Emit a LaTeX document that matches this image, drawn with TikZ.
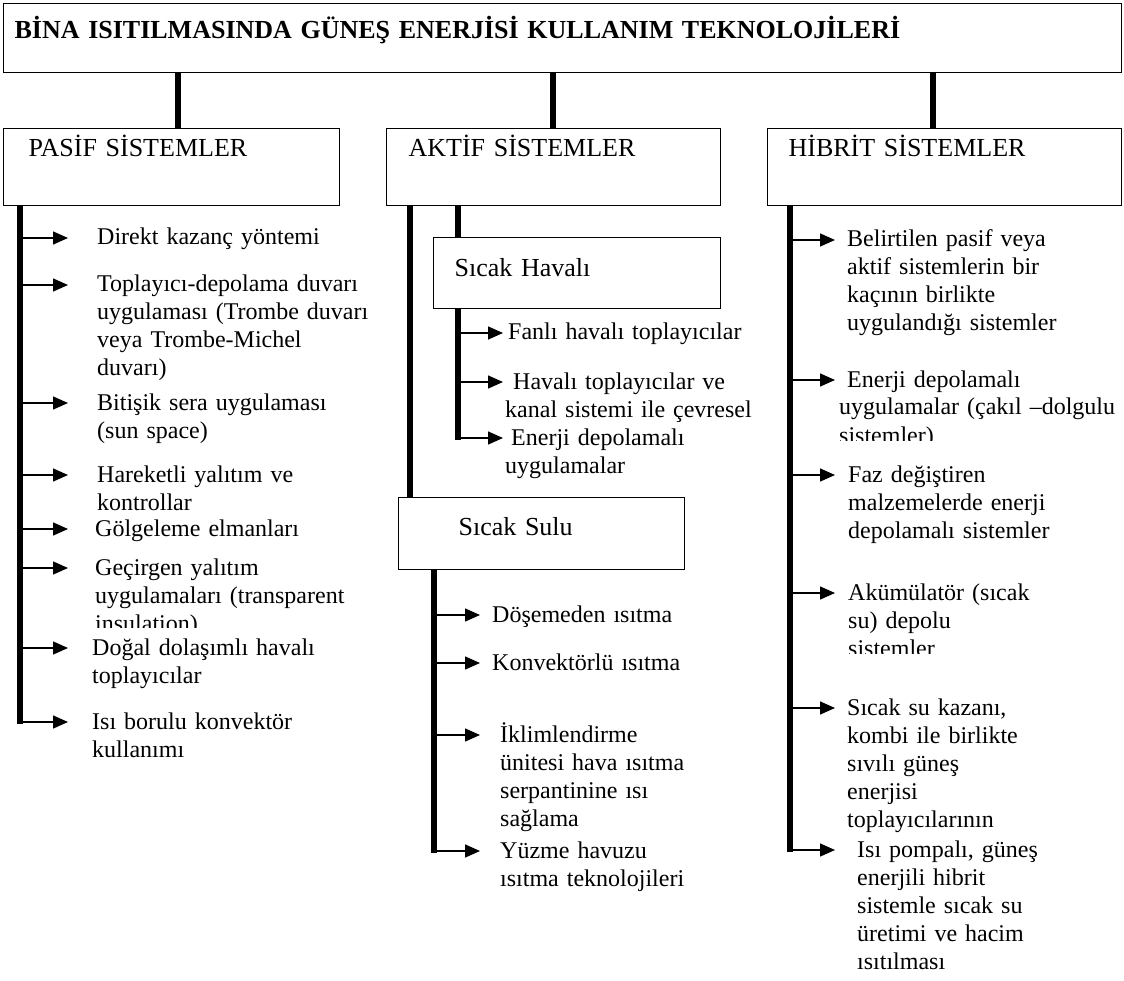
\documentclass[tikz,border=0pt]{standalone}
\usepackage{fontspec}
\setmainfont{Liberation Serif}
\usetikzlibrary{arrows.meta}

\begin{document}
\begin{tikzpicture}[x=1pt,y=-1pt,
	box/.style={draw,line width=1.2pt,anchor=north west,inner ysep=0pt,align=left,font=\fontsize{26}{30}\selectfont},
	trunk/.style={line width=6pt},
	arr/.style={-{Triangle[length=15pt,width=13pt]},line width=1.5pt},
	txt/.style={anchor=base west,inner sep=0pt,align=left,text width=400pt,font=\fontsize{24}{28}\selectfont}]
	\useasboundingbox (0,0) rectangle (1124,981);
	%
	\node[box,inner xsep=11pt,text width=1096pt,text height=35pt,text depth=34pt,font=\fontsize{26}{30}\selectfont\bfseries] (TOP) at (3,3)
		{BİNA ISITILMASINDA GÜNEŞ ENERJİSİ KULLANIM TEKNOLOJİLERİ};
	\node[box,inner xsep=25pt,text width=286pt,text height=28pt,text depth=49pt] (PS) at (3,128) {PASİF SİSTEMLER};
	\node[box,inner xsep=22pt,text width=290pt,text height=28pt,text depth=49pt] (AS) at (386,128) {AKTİF SİSTEMLER};
	\node[box,inner xsep=21pt,text width=312pt,text height=28pt,text depth=49pt] (HS) at (767,128) {HİBRİT SİSTEMLER};
	\node[box,inner xsep=21pt,text width=245pt,text height=39pt,text depth=32pt] (SH) at (433,237) {Sıcak Havalı};
	\node[box,inner xsep=60pt,text width=166pt,text height=38pt,text depth=34pt] (SS) at (398,497) {Sıcak Sulu};
	%
	\coordinate (c1) at (178,0);
	\coordinate (c2) at (553,0);
	\coordinate (c3) at (933,0);
	\draw[trunk] (TOP.south -| c1) -- (PS.north -| c1);
	\draw[trunk] (TOP.south -| c2) -- (AS.north -| c2);
	\draw[trunk] (TOP.south -| c3) -- (HS.north -| c3);
	%
	% pasif
	\coordinate (ptip) at (68,0);
	\foreach \n/\y in {1/238,2/285,3/403,4/475,5/529,6/568,7/648,8/722}{
		\coordinate (pa\n) at (20,\y);
		\draw[arr] (pa\n) -- (pa\n -| ptip);
	}
	\draw[trunk] (PS.south -| pa1) -- ([yshift=-2pt]pa8);
	\node[txt] (p1) at (97,245) {Direkt kazanç yöntemi};
	\node[txt] (p2) at (97,292) {Toplayıcı-depolama duvarı\\uygulaması (Trombe duvarı\\veya Trombe-Michel\\duvarı)};
	\node[txt] (p3) at (97,410) {Bitişik sera uygulaması\\(sun space)};
	\node[txt] (p4) at (97,482) {Hareketli yalıtım ve\\kontrollar};
	\node[txt] (p5) at (95,536) {Gölgeleme elmanları};
	\begin{scope}
		\clip (80,540) rectangle (400,627);
		\node[txt] (p6) at (95,575) {Geçirgen yalıtım\\uygulamaları (transparent\\insulation)};
	\end{scope}
	\node[txt] (p7) at (92,655) {Doğal dolaşımlı havalı\\toplayıcılar};
	\node[txt] (p8) at (92,729) {Isı borulu konvektör\\kullanımı};
	%
	% aktif
	\coordinate (a1) at (410,0);
	\coordinate (a2) at (458,0);
	\draw[trunk] (AS.south -| a1) -- (SS.north -| a1);
	\draw[trunk] (AS.south -| a2) -- (SH.north -| a2);
	\coordinate (htip) at (503,0);
	\foreach \n/\y in {1/333,2/382,3/438}{
		\coordinate (ha\n) at (458,\y);
		\draw[arr] (ha\n) -- (ha\n -| htip);
	}
	\draw[trunk] (SH.south -| ha1) -- ([yshift=-2pt]ha3);
	\node[txt] (h1) at (508,340) {Fanlı havalı toplayıcılar};
	\node[txt] (h2) at (505,389) {\hspace{8pt}Havalı toplayıcılar ve\\kanal sistemi ile çevresel};
	\node[txt] (h3) at (505,445) {\hspace{6pt}Enerji depolamalı\\uygulamalar};
	%
	\coordinate (stip) at (480,0);
	\foreach \n/\y in {1/615,2/663,3/735,4/851}{
		\coordinate (sa\n) at (434,\y);
		\draw[arr] (sa\n) -- (sa\n -| stip);
	}
	\draw[trunk] (SS.south -| sa1) -- ([yshift=-2pt]sa4);
	\node[txt] (s1) at (492,622) {Döşemeden ısıtma};
	\node[txt] (s2) at (492,670) {Konvektörlü ısıtma};
	\node[txt] (s3) at (500,742) {İklimlendirme\\ünitesi hava ısıtma\\serpantinine ısı\\sağlama};
	\node[txt] (s4) at (500,858) {Yüzme havuzu\\ısıtma teknolojileri};
	%
	% hibrit
	\coordinate (btip) at (835,0);
	\foreach \n/\y in {1/240,2/380,3/475,4/593,5/708,6/850}{
		\coordinate (ba\n) at (790,\y);
		\draw[arr] (ba\n) -- (ba\n -| btip);
	}
	\draw[trunk] (HS.south -| ba1) -- ([yshift=-2pt]ba6);
	\node[txt] (b1) at (847,247) {Belirtilen pasif veya\\aktif sistemlerin bir\\kaçının birlikte\\uygulandığı sistemler};
	\begin{scope}
		\clip (830,360) rectangle (1124,440);
		\node[txt] (b2) at (839,387) {\hspace{8pt}Enerji depolamalı\\uygulamalar (çakıl –dolgulu\\sistemler)};
	\end{scope}
	\node[txt] (b3) at (848,482) {Faz değiştiren\\malzemelerde enerji\\depolamalı sistemler};
	\begin{scope}
		\clip (830,570) rectangle (1124,653);
		\node[txt] (b4) at (848,600) {Akümülatör (sıcak\\su) depolu\\sistemler};
	\end{scope}
	\node[txt] (b5) at (847,715) {Sıcak su kazanı,\\kombi ile birlikte\\sıvılı güneş\\enerjisi\\toplayıcılarının};
	\node[txt] (b6) at (857,857) {Isı pompalı, güneş\\enerjili hibrit\\sistemle sıcak su\\üretimi ve hacim\\ısıtılması};
\end{tikzpicture}
\end{document}
